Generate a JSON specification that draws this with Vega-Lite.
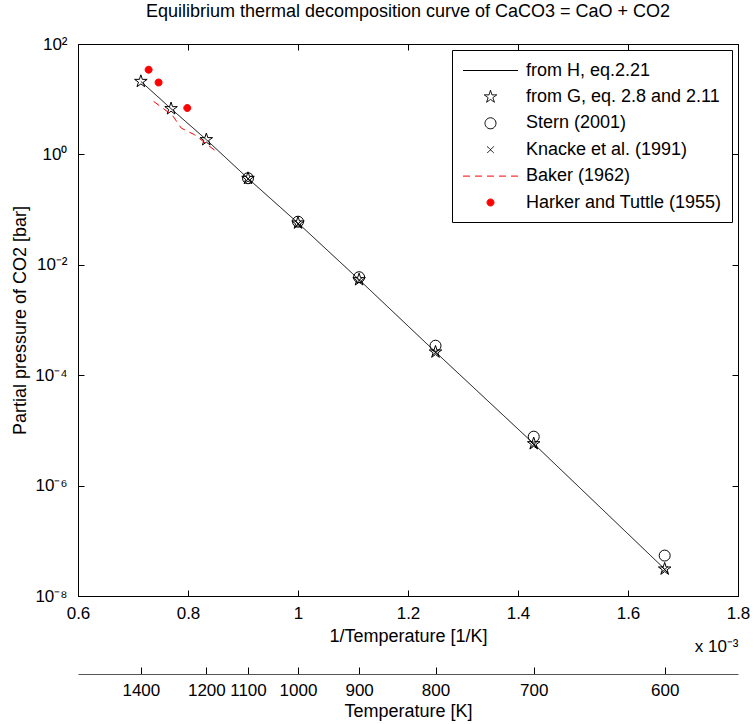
{
  "$schema": "https://vega.github.io/schema/vega-lite/v6.json",
  "width": 660,
  "height": 552,
  "autosize": "none",
  "padding": {"left": 78, "top": 44, "right": 17, "bottom": 128},
  "background": "white",
  "title": {"text": "Equilibrium thermal decomposition curve of CaCO3 = CaO + CO2", "fontSize": 18, "fontWeight": "normal", "font": "Liberation Sans", "color": "black", "baseline": "bottom", "frame": "group", "offset": 16, "dy": 20, "anchor": "middle"},
  "config": {
    "font": "Liberation Sans",
    "view": {"stroke": "black", "strokeWidth": 1},
    "axis": {"domainColor": "black", "tickColor": "black", "labelColor": "black", "titleColor": "black", "labelFontSize": 17, "titleFontSize": 18, "titleFontWeight": "normal", "grid": false, "labelFont": "Liberation Sans", "titleFont": "Liberation Sans", "labelFlush": false, "labelOverlap": false},
    "legend": {"orient": "top-right", "offset": 6, "padding": 10, "strokeColor": "black", "fillColor": "white", "strokeWidth": 1, "cornerRadius": 0, "labelFontSize": 18, "labelFont": "Liberation Sans", "labelColor": "black", "labelLimit": 400, "symbolSize": 400, "symbolStrokeWidth": 1, "labelOffset": 25, "symbolOffset": 18, "rowPadding": 6.4}
  },
  "resolve": {"axis": {"x": "independent", "y": "independent"}},
  "layer": [
    {
      "data": {"values": [
        {"invT": 0.7143, "p": 21.0, "series": "from H, eq.2.21"},
        {"invT": 0.7692, "p": 6.73, "series": "from H, eq.2.21"},
        {"invT": 0.8333, "p": 1.85, "series": "from H, eq.2.21"},
        {"invT": 0.9091, "p": 0.367, "series": "from H, eq.2.21"},
        {"invT": 1.0, "p": 0.0571, "series": "from H, eq.2.21"},
        {"invT": 1.1111, "p": 0.00537, "series": "from H, eq.2.21"},
        {"invT": 1.25, "p": 0.000263, "series": "from H, eq.2.21"},
        {"invT": 1.4286, "p": 0.00000574, "series": "from H, eq.2.21"},
        {"invT": 1.6667, "p": 0.0000000308, "series": "from H, eq.2.21"}
      ]},
      "mark": {"type": "line", "strokeWidth": 1},
      "encoding": {
        "x": {"field": "invT", "type": "quantitative", "scale": {"domain": [0.6, 1.8], "nice": false, "zero": false},
          "axis": {"orient": "bottom", "values": [0.6, 0.8, 1, 1.2, 1.4, 1.6, 1.8], "format": "~g", "tickSize": -6, "labelPadding": 15, "title": "1/Temperature [1/K]", "titlePadding": 6}},
        "y": {"field": "p", "type": "quantitative", "scale": {"type": "log", "domain": [0.00000001, 100], "nice": false},
          "axis": {"orient": "left", "values": [0.00000001, 0.000001, 0.0001, 0.01, 1, 100], "labelExpr": "datum.value >= 50 ? '10²' : datum.value >= 0.5 ? '10⁰' : datum.value >= 0.005 ? '10⁻²' : datum.value >= 0.00005 ? '10⁻⁴' : datum.value >= 0.0000005 ? '10⁻⁶' : '10⁻⁸'", "tickSize": -6, "labelPadding": 17, "title": "Partial pressure of CO2 [bar]", "titlePadding": 5}},
        "stroke": {"field": "series", "type": "nominal", "scale": {"domain": ["from H, eq.2.21", "from G, eq. 2.8 and 2.11", "Stern (2001)", "Knacke et al. (1991)", "Baker (1962)", "Harker and Tuttle (1955)"], "range": ["black", "black", "black", "black", "red", "red"]}, "legend": {"title": null}},
        "strokeDash": {"field": "series", "type": "nominal", "scale": {"domain": ["from H, eq.2.21", "from G, eq. 2.8 and 2.11", "Stern (2001)", "Knacke et al. (1991)", "Baker (1962)", "Harker and Tuttle (1955)"], "range": [[1, 0], [1, 0], [1, 0], [1, 0], [7, 5], [1, 0]]}, "legend": {"title": null}}
      }
    },
    {
      "data": {"values": [
        {"invT": 0.7143, "p": 21.0, "series": "from G, eq. 2.8 and 2.11"},
        {"invT": 0.7692, "p": 6.73, "series": "from G, eq. 2.8 and 2.11"},
        {"invT": 0.8333, "p": 1.85, "series": "from G, eq. 2.8 and 2.11"},
        {"invT": 0.9091, "p": 0.367, "series": "from G, eq. 2.8 and 2.11"},
        {"invT": 1.0, "p": 0.0571, "series": "from G, eq. 2.8 and 2.11"},
        {"invT": 1.1111, "p": 0.00537, "series": "from G, eq. 2.8 and 2.11"},
        {"invT": 1.25, "p": 0.000263, "series": "from G, eq. 2.8 and 2.11"},
        {"invT": 1.4286, "p": 0.00000574, "series": "from G, eq. 2.8 and 2.11"},
        {"invT": 1.6667, "p": 0.0000000308, "series": "from G, eq. 2.8 and 2.11"}
      ]},
      "mark": {"type": "point", "size": 400, "strokeWidth": 1, "opacity": 1},
      "encoding": {
        "x": {"field": "invT", "type": "quantitative", "scale": {"domain": [0.6, 1.8], "nice": false, "zero": false},
          "axis": {"orient": "top", "values": [0.6, 0.8, 1, 1.2, 1.4, 1.6, 1.8], "labels": false, "tickSize": -6, "title": null}},
        "y": {"field": "p", "type": "quantitative", "scale": {"type": "log", "domain": [0.00000001, 100], "nice": false},
          "axis": {"orient": "right", "values": [0.00000001, 0.000001, 0.0001, 0.01, 1, 100], "labels": false, "tickSize": -6, "title": null}},
        "stroke": {"field": "series", "type": "nominal", "legend": {"title": null}},
        "fill": {"field": "series", "type": "nominal", "scale": {"domain": ["from H, eq.2.21", "from G, eq. 2.8 and 2.11", "Stern (2001)", "Knacke et al. (1991)", "Baker (1962)", "Harker and Tuttle (1955)"], "range": ["transparent", "transparent", "transparent", "transparent", "transparent", "red"]}, "legend": {"title": null}},
        "shape": {"field": "series", "type": "nominal", "scale": {"domain": ["from H, eq.2.21", "from G, eq. 2.8 and 2.11", "Stern (2001)", "Knacke et al. (1991)", "Baker (1962)", "Harker and Tuttle (1955)"], "range": [
          "M-2.75,0L2.75,0",
          "M0,-0.66L0.148,-0.204L0.628,-0.204L0.24,0.078L0.388,0.534L0,0.252L-0.388,0.534L-0.24,0.078L-0.628,-0.204L-0.148,-0.204Z",
          "M0.55,0C0.55,0.3038,0.3038,0.55,0,0.55C-0.3038,0.55,-0.55,0.3038,-0.55,0C-0.55,-0.3038,-0.3038,-0.55,0,-0.55C0.3038,-0.55,0.55,-0.3038,0.55,0Z",
          "M-0.33,-0.33L0.33,0.33M-0.33,0.33L0.33,-0.33",
          "M-2.75,0L2.75,0",
          "M0.35,0C0.35,0.1933,0.1933,0.35,0,0.35C-0.1933,0.35,-0.35,0.1933,-0.35,0C-0.35,-0.1933,-0.1933,-0.35,0,-0.35C0.1933,-0.35,0.35,-0.1933,0.35,0Z"
        ]}, "legend": {"title": null}}
      }
    },
    {
      "data": {"values": [
        {"invT": 0.9091, "p": 0.37, "series": "Stern (2001)"},
        {"invT": 1.0, "p": 0.0604, "series": "Stern (2001)"},
        {"invT": 1.1111, "p": 0.00596, "series": "Stern (2001)"},
        {"invT": 1.25, "p": 0.000342, "series": "Stern (2001)"},
        {"invT": 1.4286, "p": 0.0000077, "series": "Stern (2001)"},
        {"invT": 1.6667, "p": 0.000000054, "series": "Stern (2001)"}
      ]},
      "mark": {"type": "point", "size": 400, "strokeWidth": 1, "opacity": 1},
      "encoding": {
        "x": {"field": "invT", "type": "quantitative", "scale": {"domain": [0.6, 1.8], "nice": false, "zero": false},
          "axis": {"orient": "bottom", "offset": 78, "values": [0.714286, 0.833333, 0.909091, 1, 1.111111, 1.25, 1.428571, 1.666667], "labelExpr": "format(1000 / datum.value, '.0f')", "tickSize": -7, "labelPadding": 15, "domainColor": "#555", "title": "Temperature [K]", "titlePadding": 4}},
        "y": {"field": "p", "type": "quantitative", "scale": {"type": "log", "domain": [0.00000001, 100], "nice": false}, "axis": null},
        "stroke": {"field": "series", "type": "nominal", "legend": {"title": null}},
        "fill": {"field": "series", "type": "nominal", "legend": {"title": null}},
        "shape": {"field": "series", "type": "nominal", "legend": {"title": null}}
      }
    },
    {
      "data": {"values": [
        {"invT": 0.9091, "p": 0.36, "series": "Knacke et al. (1991)"},
        {"invT": 1.0, "p": 0.055, "series": "Knacke et al. (1991)"},
        {"invT": 1.1111, "p": 0.0052, "series": "Knacke et al. (1991)"},
        {"invT": 1.25, "p": 0.000255, "series": "Knacke et al. (1991)"},
        {"invT": 1.4286, "p": 0.0000055, "series": "Knacke et al. (1991)"},
        {"invT": 1.6667, "p": 0.00000003, "series": "Knacke et al. (1991)"}
      ]},
      "mark": {"type": "point", "size": 400, "strokeWidth": 1, "opacity": 1},
      "encoding": {
        "x": {"field": "invT", "type": "quantitative", "scale": {"domain": [0.6, 1.8], "nice": false, "zero": false},
          "axis": {"orient": "bottom", "offset": 0, "domain": false, "ticks": false, "labels": false, "title": "x 10⁻³", "titleAnchor": "end", "titlePadding": 42, "titleFontSize": 17}},
        "y": {"field": "p", "type": "quantitative", "scale": {"type": "log", "domain": [0.00000001, 100], "nice": false}, "axis": null},
        "stroke": {"field": "series", "type": "nominal", "legend": {"title": null}},
        "fill": {"field": "series", "type": "nominal", "legend": {"title": null}},
        "shape": {"field": "series", "type": "nominal", "legend": {"title": null}}
      }
    },
    {
      "data": {"values": [
        {"invT": 0.7375, "p": 9.12, "series": "Baker (1962)"},
        {"invT": 0.7715, "p": 5.13, "series": "Baker (1962)"},
        {"invT": 0.7878, "p": 2.99, "series": "Baker (1962)"},
        {"invT": 0.8115, "p": 2.28, "series": "Baker (1962)"},
        {"invT": 0.8556, "p": 1.05, "series": "Baker (1962)"}
      ]},
      "mark": {"type": "line", "strokeWidth": 1},
      "encoding": {
        "x": {"field": "invT", "type": "quantitative", "scale": {"domain": [0.6, 1.8], "nice": false, "zero": false}, "axis": null},
        "y": {"field": "p", "type": "quantitative", "scale": {"type": "log", "domain": [0.00000001, 100], "nice": false}, "axis": null},
        "stroke": {"field": "series", "type": "nominal", "legend": {"title": null}},
        "strokeDash": {"field": "series", "type": "nominal", "legend": {"title": null}}
      }
    },
    {
      "data": {"values": [
        {"invT": 0.7284, "p": 34.2, "series": "Harker and Tuttle (1955)"},
        {"invT": 0.7465, "p": 20.1, "series": "Harker and Tuttle (1955)"},
        {"invT": 0.7987, "p": 6.93, "series": "Harker and Tuttle (1955)"}
      ]},
      "mark": {"type": "point", "size": 400, "strokeWidth": 1, "opacity": 1},
      "encoding": {
        "x": {"field": "invT", "type": "quantitative", "scale": {"domain": [0.6, 1.8], "nice": false, "zero": false}, "axis": null},
        "y": {"field": "p", "type": "quantitative", "scale": {"type": "log", "domain": [0.00000001, 100], "nice": false}, "axis": null},
        "stroke": {"field": "series", "type": "nominal", "legend": {"title": null}},
        "fill": {"field": "series", "type": "nominal", "legend": {"title": null}},
        "shape": {"field": "series", "type": "nominal", "legend": {"title": null}}
      }
    }
  ]
}
